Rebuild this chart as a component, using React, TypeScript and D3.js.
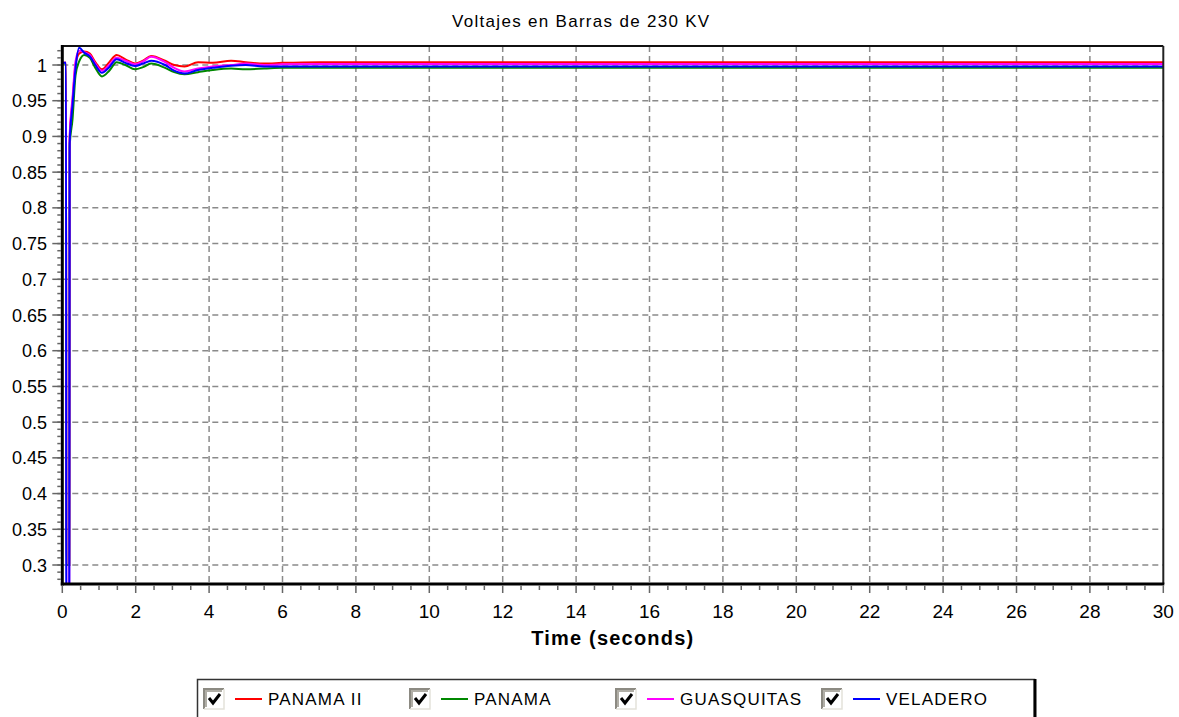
import React from 'react';
import * as d3 from 'd3';

// ---- Data ----
const times = [0, 0.1, 0.11, 0.19, 0.2, 0.28, 0.36, 0.46, 0.6, 0.75, 0.9, 1.08, 1.28, 1.48, 1.72, 1.98, 2.2, 2.42, 2.8, 3.05, 3.33, 3.7, 4.1, 4.6, 5.0, 5.5, 6.0, 7.0, 30];
const panamaII = [1.003, 1.003, 0.3, 0.3, 0.895, 0.95, 1.0, 1.016, 1.019, 1.016, 1.004, 0.994, 1.004, 1.014, 1.008, 1.002, 1.006, 1.0125, 1.006, 1.0, 0.998, 1.004, 1.003, 1.006, 1.004, 1.002, 1.003, 1.004, 1.004];
const panama = [1.002, 1.002, 0.3, 0.3, 0.885, 0.925, 0.985, 1.005, 1.014, 1.01, 0.996, 0.984, 0.992, 1.004, 1.0, 0.994, 0.997, 1.002, 0.996, 0.99, 0.987, 0.99, 0.993, 0.995, 0.994, 0.995, 0.996, 0.996, 0.996];
const guasquitas = [1.003, 1.003, 0.27, 0.27, 0.9, 0.955, 1.005, 1.02, 1.018, 1.014, 1.002, 0.992, 1.0, 1.01, 1.006, 1.001, 1.005, 1.0115, 1.004, 0.996, 0.991, 0.995, 0.998, 1.0, 1.002, 1.0, 1.001, 1.0014, 1.0014];
const veladero = [1.003, 1.003, 0.2, 0.2, 0.89, 0.945, 0.995, 1.024, 1.017, 1.012, 1.0, 0.989, 0.997, 1.008, 1.003, 0.9986, 1.002, 1.006, 1.0, 0.992, 0.988, 0.993, 0.996, 0.999, 1.0, 0.998, 0.998, 0.998, 0.998];

const seriesNames = ['PANAMA II', 'PANAMA', 'GUASQUITAS', 'VELADERO'];
const seriesValues = [panamaII, panama, guasquitas, veladero];
const seriesColors = ['#ff0000', '#008800', '#ff00ff', '#0000ff'];

const xTickValues = [0, 2, 4, 6, 8, 10, 12, 14, 16, 18, 20, 22, 24, 26, 28, 30];
const yTickValues = [0.3, 0.35, 0.4, 0.45, 0.5, 0.55, 0.6, 0.65, 0.7, 0.75, 0.8, 0.85, 0.9, 0.95, 1];
const yTickLabels = ['0.3', '0.35', '0.4', '0.45', '0.5', '0.55', '0.6', '0.65', '0.7', '0.75', '0.8', '0.85', '0.9', '0.95', '1'];

const title = 'Voltajes en Barras de 230 KV';
const xTitle = 'Time (seconds)';

// ---- Layout ----
const W = 1179;
const H = 717;
const L = 62.3;
const R = 1163.3;
const T = 46;
const B = 584;
const FONT = "'Liberation Sans', Arial, sans-serif";

export default function App() {
  const x = d3.scaleLinear().domain([0, 30]).range([L, R]);
  const y = d3.scaleLinear().domain([0.3, 1]).range([565, 65]);

  const minorX = d3.range(0, 60.5, 1).map((i) => i / 2).filter((v) => v % 2 !== 0);
  const minorY = d3.range(28, 103).map((i) => i / 100).filter((v) => y(v) > T + 1 && y(v) < B - 1);

  const line = d3
    .line<[number, number]>()
    .x((d) => x(d[0]))
    .y((d) => y(d[1]))
    .curve(d3.curveMonotoneX);

  const legendX = [204, 410, 616, 822];

  return (
    <svg width={W} height={H} style={{ position: 'absolute', left: 0, top: 0, background: '#fff' }}>
      <defs>
        <clipPath id="plotClip">
          <rect x={L} y={T} width={R - L} height={B - T} />
        </clipPath>
      </defs>
      <rect x={0} y={0} width={W} height={H} fill="#fff" />

      {/* Title */}
      <text x={452} y={27} fontFamily={FONT} fontSize={17} letterSpacing={1.3} fill="#000">
        {title}
      </text>

      {/* Grid */}
      <g stroke="#8a8a8a" strokeWidth={1.5} strokeDasharray="6,4">
        {xTickValues.slice(1, -1).map((v) => (
          <line key={'gx' + v} x1={x(v)} x2={x(v)} y1={T} y2={B} />
        ))}
        {yTickValues.map((v) => (
          <line key={'gy' + v} x1={L} x2={R} y1={y(v)} y2={y(v)} />
        ))}
      </g>

      {/* Series */}
      <g clipPath="url(#plotClip)" fill="none" strokeWidth={2}>
        {seriesValues.map((vals, i) => (
          <path
            key={seriesNames[i]}
            d={line(times.map((t, j) => [t, vals[j]] as [number, number])) || ''}
            stroke={seriesColors[i]}
          />
        ))}
      </g>

      {/* Frame */}
      <line x1={L} x2={R} y1={T} y2={T} stroke="#111" strokeWidth={2} />
      <line x1={R} x2={R} y1={T} y2={B} stroke="#222" strokeWidth={2} />
      <line x1={L} x2={L} y1={T - 1} y2={B + 1.5} stroke="#000" strokeWidth={3} />
      <line x1={L - 1.5} x2={R + 1} y1={B} y2={B} stroke="#000" strokeWidth={3} />

      {/* X ticks */}
      <g stroke="#666" strokeWidth={1.5}>
        {xTickValues.map((v) => (
          <line key={'xt' + v} x1={x(v)} x2={x(v)} y1={B + 1.5} y2={B + 9} />
        ))}
        {minorX.map((v) => (
          <line key={'xm' + v} x1={x(v)} x2={x(v)} y1={B + 1.5} y2={B + 6} />
        ))}
      </g>
      <g fontFamily={FONT} fontSize={19} fill="#000" textAnchor="middle">
        {xTickValues.map((v) => (
          <text key={'xl' + v} x={x(v)} y={618}>
            {String(v)}
          </text>
        ))}
      </g>

      {/* Y ticks */}
      <g stroke="#666" strokeWidth={1.5}>
        {yTickValues.map((v) => (
          <line key={'yt' + v} x1={L - 10} x2={L - 1.5} y1={y(v)} y2={y(v)} />
        ))}
        {minorY.map((v) => (
          <line key={'ym' + v} x1={L - 5} x2={L - 1.5} y1={y(v)} y2={y(v)} />
        ))}
      </g>
      <g fontFamily={FONT} fontSize={18} fill="#000" textAnchor="end">
        {yTickValues.map((v, i) => (
          <text key={'yl' + v} x={47} y={y(v) + 6.5}>
            {yTickLabels[i]}
          </text>
        ))}
      </g>

      {/* X axis title */}
      <text
        x={(L + R) / 2}
        y={645}
        textAnchor="middle"
        fontFamily={FONT}
        fontSize={20}
        fontWeight="bold"
        letterSpacing={1.2}
        fill="#000"
      >
        {xTitle}
      </text>

      {/* Legend */}
      <rect x={197.5} y={679.5} width={837} height={60} fill="#fff" stroke="#333" strokeWidth={1.5} />
      <line x1={1035} x2={1035} y1={679} y2={H} stroke="#000" strokeWidth={3} />
      {seriesNames.map((name, i) => {
        const lx = legendX[i];
        const cy = 699;
        return (
          <g key={'lg' + name}>
            <rect x={lx} y={689} width={20} height={20} fill="#fff" />
            <path d={`M${lx},${709} V${689} H${lx + 20}`} fill="none" stroke="#8c8a82" strokeWidth={2} />
            <path d={`M${lx + 2},${707} V${691} H${lx + 18}`} fill="none" stroke="#b0aea6" strokeWidth={2} />
            <path d={`M${lx},${709} H${lx + 20} V${689}`} fill="none" stroke="#e4e2da" strokeWidth={1.5} />
            <path
              d={`M${lx + 5},${cy - 1} L${lx + 9},${cy + 4} L${lx + 16},${cy - 5}`}
              fill="none"
              stroke="#000"
              strokeWidth={3}
            />
            <line x1={lx + 31} x2={lx + 58} y1={cy} y2={cy} stroke={seriesColors[i]} strokeWidth={2} />
            <text x={lx + 64} y={705} fontFamily={FONT} fontSize={17} letterSpacing={1.2} fill="#000">
              {name}
            </text>
          </g>
        );
      })}
    </svg>
  );
}
